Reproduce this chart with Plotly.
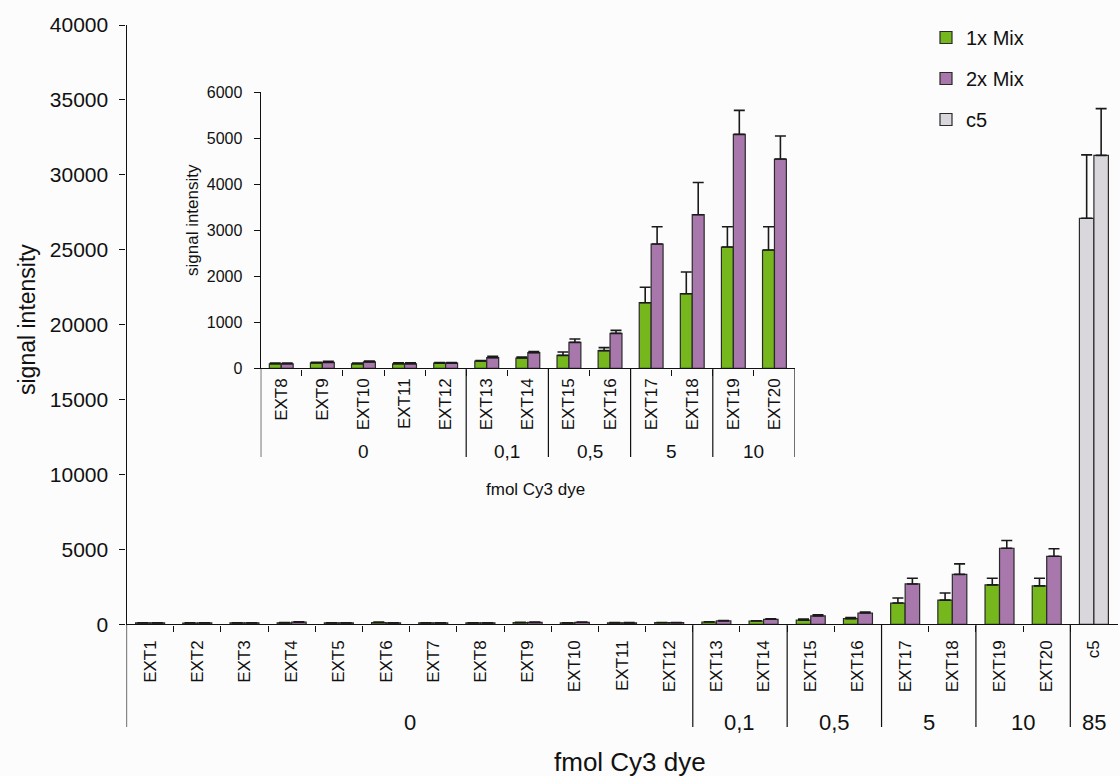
import plotly.graph_objects as go

# ---------------- data ----------------
categories = ["EXT1", "EXT2", "EXT3", "EXT4", "EXT5", "EXT6", "EXT7", "EXT8", "EXT9", "EXT10",
              "EXT11", "EXT12", "EXT13", "EXT14", "EXT15", "EXT16", "EXT17", "EXT18", "EXT19", "EXT20"]
control_label = "c5"
mix1 = [100, 95, 100, 105, 100, 125, 100, 100, 120, 100, 100, 115, 160, 226, 283, 385, 1426, 1622, 2635, 2570]
mix1_err = [15, 15, 10, 20, 10, 40, 10, 15, 15, 15, 20, 10, 12, 20, 73, 65, 335, 470, 440, 505]
mix2 = [100, 100, 100, 150, 100, 100, 100, 100, 130, 140, 100, 115, 233, 341, 566, 761, 2700, 3337, 5081, 4545]
mix2_err = [15, 10, 10, 30, 10, 15, 10, 15, 25, 20, 20, 10, 30, 25, 72, 65, 376, 700, 520, 500]
c5_vals = [27100, 31300]
c5_err = [4230, 3120]

main_groups = ["0", "0,1", "0,5", "5", "10", "85"]
main_group_sizes = [12, 2, 2, 2, 2, 1]
inset_first = 7  # inset starts at EXT8
inset_groups = ["0", "0,1", "0,5", "5", "10"]
inset_group_sizes = [5, 2, 2, 2, 2]

main_yticks = [0, 5000, 10000, 15000, 20000, 25000, 30000, 35000, 40000]
inset_yticks = [0, 1000, 2000, 3000, 4000, 5000, 6000]

series_names = ["1x Mix", "2x Mix", "c5"]
x_title = "fmol Cy3 dye"
y_title = "signal intensity"

# ---------------- style ----------------
W, H = 1120, 776
GREEN = "#76b71e"
PURPLE = "#a877ab"
GRAY = "#dad7dc"
EDGE = "#2a2a2a"
BG = "#fcfcfc"
FONT = "Liberation Sans, Arial, sans-serif"

def fx(p):
    return p / W

def fy(p):
    return 1 - p / H

main_dom_x = [fx(126.5), fx(1117.5)]
main_dom_y = [fy(624.4), fy(25)]
inset_dom_x = [fx(260.7), fx(795)]
inset_dom_y = [fy(368.4), fy(92)]

n_main = len(categories) + 1
main_x = list(range(n_main))
main_labels = categories + [control_label]
inset_cats = categories[inset_first:]
inset_x = list(range(len(inset_cats)))

bw_main = 0.307
bw_inset = 0.29

def err(arr):
    return dict(type="data", array=arr, arrayminus=[0] * len(arr), symmetric=False,
                color="#1a1a1a", thickness=1.6, width=5.5)

fig = go.Figure()

fig.add_trace(go.Bar(
    x=main_x, y=mix1 + [c5_vals[0]], name=series_names[0], legendgroup="g1",
    width=bw_main, offset=-bw_main,
    marker=dict(color=[GREEN] * len(categories) + [GRAY], line=dict(color=EDGE, width=1.2)),
    error_y=err(mix1_err + [c5_err[0]]), xaxis="x", yaxis="y"))
fig.add_trace(go.Bar(
    x=main_x, y=mix2 + [c5_vals[1]], name=series_names[1], legendgroup="g2",
    width=bw_main, offset=0,
    marker=dict(color=[PURPLE] * len(categories) + [GRAY], line=dict(color=EDGE, width=1.2)),
    error_y=err(mix2_err + [c5_err[1]]), xaxis="x", yaxis="y"))
fig.add_trace(go.Bar(
    x=[None], y=[None], name=series_names[2], legendgroup="g3",
    marker=dict(color=GRAY, line=dict(color=EDGE, width=1.2)), xaxis="x", yaxis="y"))

fig.add_trace(go.Bar(
    x=inset_x, y=mix1[inset_first:], showlegend=False, width=bw_inset, offset=-bw_inset,
    marker=dict(color=GREEN, line=dict(color=EDGE, width=1.2)),
    error_y=err(mix1_err[inset_first:]), xaxis="x2", yaxis="y2"))
fig.add_trace(go.Bar(
    x=inset_x, y=mix2[inset_first:], showlegend=False, width=bw_inset, offset=0,
    marker=dict(color=PURPLE, line=dict(color=EDGE, width=1.2)),
    error_y=err(mix2_err[inset_first:]), xaxis="x2", yaxis="y2"))

shapes = []
annotations = []

def add_groups(groups, sizes, xref, y_label, font_size):
    start = -0.5
    bounds = [start]
    for name, s in zip(groups, sizes):
        center = start + s / 2.0
        annotations.append(dict(x=center, y=y_label, xref=xref, yref="paper", text=name,
                                showarrow=False, xanchor="center", yanchor="middle",
                                font=dict(size=font_size, color="#111", family=FONT)))
        start += s
        bounds.append(start)
    return bounds

main_bounds = add_groups(main_groups, main_group_sizes, "x", fy(722), 22)
for b in main_bounds[:-1]:
    shapes.append(dict(type="line", xref="x", yref="paper", x0=b, x1=b,
                       y0=main_dom_y[0], y1=fy(727), line=dict(color="#111", width=1.2)))

inset_bounds = add_groups(inset_groups, inset_group_sizes, "x2", fy(451), 19)
for b in inset_bounds:
    shapes.append(dict(type="line", xref="x2", yref="paper", x0=b, x1=b,
                       y0=inset_dom_y[0], y1=fy(457), line=dict(color="#111", width=1.2)))

# axis titles
annotations.append(dict(x=fx(630), y=fy(762), xref="paper", yref="paper",
                        text=x_title, showarrow=False, xanchor="center", yanchor="middle",
                        font=dict(size=26, color="#111", family=FONT)))
annotations.append(dict(x=fx(27), y=fy(320), xref="paper", yref="paper", text=y_title,
                        textangle=-90, showarrow=False, xanchor="center", yanchor="middle",
                        font=dict(size=23, color="#111", family=FONT)))
annotations.append(dict(x=fx(535), y=fy(489), xref="paper", yref="paper",
                        text=x_title, showarrow=False, xanchor="center", yanchor="middle",
                        font=dict(size=17, color="#111", family=FONT)))
annotations.append(dict(x=fx(192), y=fy(220), xref="paper", yref="paper", text=y_title,
                        textangle=-90, showarrow=False, xanchor="center", yanchor="middle",
                        font=dict(size=17, color="#111", family=FONT)))

axis_common = dict(showgrid=False, zeroline=False, showline=True, linecolor="#111", linewidth=1.2,
                   automargin=False, fixedrange=True)

fig.update_layout(
    width=W, height=H, margin=dict(l=0, r=0, t=0, b=0),
    paper_bgcolor=BG, plot_bgcolor="rgba(0,0,0,0)",
    template="none", barmode="overlay",
    font=dict(family=FONT, color="#111"),
    xaxis=dict(domain=main_dom_x, range=[-0.5, n_main - 0.5], anchor="y",
               tickmode="array", tickvals=main_x, ticktext=main_labels, tickangle=-90,
               ticks="", ticklabelstandoff=8, tickfont=dict(size=17, family=FONT),
               minor=dict(tickmode="array", tickvals=[i - 0.5 for i in range(1, n_main)],
                          ticks="outside", ticklen=6, tickcolor="#111", tickwidth=1.2),
               **axis_common),
    yaxis=dict(domain=main_dom_y, range=[0, 40000], anchor="x",
               tickmode="array", tickvals=main_yticks, ticktext=[str(v) for v in main_yticks],
               ticks="outside", ticklen=6, tickcolor="#111", tickwidth=1.2, ticklabelstandoff=7,
               tickfont=dict(size=21, family=FONT), **axis_common),
    xaxis2=dict(domain=inset_dom_x, range=[-0.5, len(inset_cats) - 0.5], anchor="y2",
                tickmode="array", tickvals=inset_x, ticktext=inset_cats, tickangle=-90,
                ticks="", ticklabelstandoff=2, tickfont=dict(size=17, family=FONT),
                minor=dict(tickmode="array", tickvals=[i - 0.5 for i in range(1, len(inset_cats))],
                           ticks="outside", ticklen=6, tickcolor="#111", tickwidth=1.2),
                **axis_common),
    yaxis2=dict(domain=inset_dom_y, range=[0, 6000], anchor="x2",
                tickmode="array", tickvals=inset_yticks, ticktext=[str(v) for v in inset_yticks],
                ticks="outside", ticklen=6, tickcolor="#111", tickwidth=1.2, ticklabelstandoff=8,
                tickfont=dict(size=16, family=FONT), **axis_common),
    legend=dict(x=fx(926), y=fy(18), xanchor="left", yanchor="top", bgcolor="rgba(0,0,0,0)",
                font=dict(size=20, family=FONT, color="#111"), tracegroupgap=12,
                traceorder="grouped"),
    shapes=shapes, annotations=annotations,
)

fig.write_html("out.html", config={"displayModeBar": False},
               post_script="document.body.style.margin='0';document.body.style.overflow='hidden';")
